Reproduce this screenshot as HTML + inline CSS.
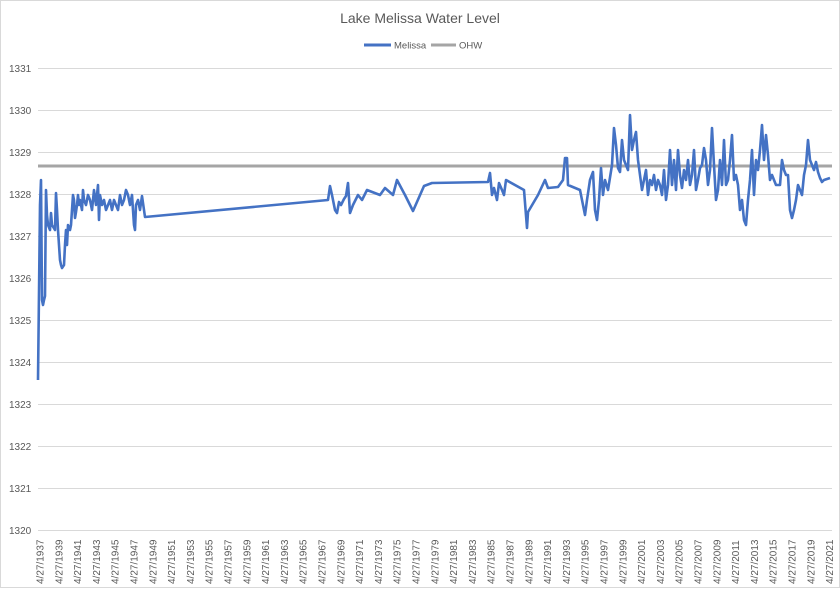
<!DOCTYPE html>
<html><head><meta charset="utf-8"><style>
body{margin:0;background:#fff}
svg{display:block;font-family:"Liberation Sans",sans-serif}
</style></head><body>
<svg width="840" height="589" viewBox="0 0 840 589">
<rect x="0.5" y="0.5" width="839" height="587" fill="#fff" stroke="#d9d9d9"/>
<text x="420" y="23" text-anchor="middle" font-size="14" fill="#595959">Lake Melissa Water Level</text>
<line x1="364" y1="45" x2="391" y2="45" stroke="#4472c4" stroke-width="3"/>
<text x="394" y="48.5" font-size="9.5" fill="#595959">Melissa</text>
<line x1="431" y1="45" x2="456" y2="45" stroke="#a5a5a5" stroke-width="3"/>
<text x="459" y="48.5" font-size="9.5" fill="#595959">OHW</text>
<g stroke="#d9d9d9" stroke-width="1">
<line x1="38" x2="832" y1="68.5" y2="68.5"/><line x1="38" x2="832" y1="110.5" y2="110.5"/>
<line x1="38" x2="832" y1="152.5" y2="152.5"/><line x1="38" x2="832" y1="194.5" y2="194.5"/>
<line x1="38" x2="832" y1="236.5" y2="236.5"/><line x1="38" x2="832" y1="278.5" y2="278.5"/>
<line x1="38" x2="832" y1="320.5" y2="320.5"/><line x1="38" x2="832" y1="362.5" y2="362.5"/>
<line x1="38" x2="832" y1="404.5" y2="404.5"/><line x1="38" x2="832" y1="446.5" y2="446.5"/>
<line x1="38" x2="832" y1="488.5" y2="488.5"/><line x1="38" x2="832" y1="530.5" y2="530.5"/>
</g>
<g font-size="10" fill="#595959" text-anchor="start">
<text x="9" y="72">1331</text><text x="9" y="114">1330</text><text x="9" y="156">1329</text>
<text x="9" y="198">1328</text><text x="9" y="240">1327</text><text x="9" y="282">1326</text>
<text x="9" y="324">1325</text><text x="9" y="366">1324</text><text x="9" y="408">1323</text>
<text x="9" y="450">1322</text><text x="9" y="492">1321</text><text x="9" y="534">1320</text>
</g>
<line x1="38" x2="832" y1="166" y2="166" stroke="#a5a5a5" stroke-width="3"/>
<polyline fill="none" stroke="#4472c4" stroke-width="2.6" stroke-linejoin="round" points="38,380 40,205 41,180 42,300 43,305 44,300 45,296 46,190 47,215 48,225 50,230 51,213 52,225 55,230 56,193 57,210 58,230 60,260 61,265 62,268 64,265 65,245 66,230 67,245 68,225 70,230 71,225 72,210 73,195 74,200 75,218 76,212 77,205 78,195 79,205 80,200 82,210 83,190 84,200 86,205 88,195 90,200 92,210 94,190 96,205 98,185 99,220 100,195 102,205 104,200 106,210 108,205 110,200 112,210 114,200 116,205 118,210 120,195 122,205 124,200 126,190 128,195 130,205 132,195 134,225 135,230 136,205 138,200 140,210 142,196 144,210 145,217 328,200 330,186 332,195 335,210 337,213 339,202 341,205 344,199 346,196 348,183 350,213 353,205 358,195 362,200 367,190 380,195 385,188 393,195 397,180 405,195 413,211 424,186 432,183 488,182 490,173 492,195 494,188 497,200 499,183 502,190 504,195 506,180 524,190 527,228 528,212 538,195 545,180 548,188 558,187 563,180 565,158 567,158 568,185 580,190 585,215 587,200 590,180 593,172 595,210 597,220 599,200 601,168 603,195 605,180 608,190 612,165 614,128 616,145 618,168 620,172 622,140 624,160 628,170 630,115 632,150 634,140 636,132 638,160 640,175 642,190 644,180 646,170 648,195 650,180 652,185 654,175 656,190 658,180 660,185 662,195 664,170 666,200 668,185 670,150 672,185 674,160 676,190 678,150 680,175 682,188 684,170 686,180 688,160 690,185 692,175 694,150 696,190 698,180 700,168 702,165 704,148 706,160 708,185 710,170 712,128 714,165 716,200 718,190 720,160 722,185 724,140 726,185 728,180 730,160 732,135 734,180 736,175 738,185 740,210 742,200 744,220 746,225 748,200 750,180 752,150 754,195 756,160 758,170 760,150 762,125 764,160 766,135 768,155 770,180 772,175 776,185 780,185 782,160 784,170 786,175 788,175 790,210 792,218 794,210 796,200 798,185 800,190 802,195 804,175 806,165 808,140 810,160 812,165 814,170 816,162 818,172 820,178 822,182 824,180 830,178"/>
<g id="xl" font-size="10" fill="#595959"></g>
</svg>
<script>
var g=document.getElementById('xl'),s='';
for(var i=0;i<43;i++){var x=43.5+i*18.8,y=584;
s+='<text transform="translate('+x.toFixed(1)+','+y+') rotate(-90)">4/27/'+(1937+2*i)+'</text>';}
g.innerHTML=s;
</script>
</body></html>
